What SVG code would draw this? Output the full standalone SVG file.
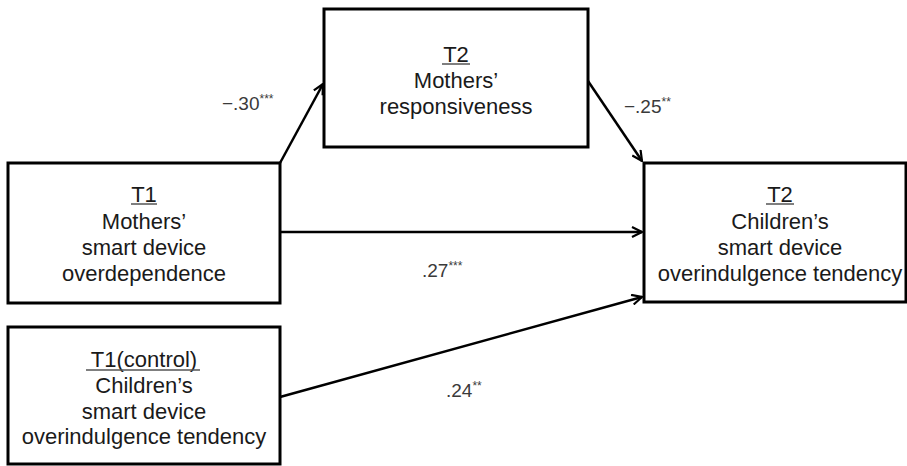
<svg xmlns="http://www.w3.org/2000/svg" width="907" height="466" viewBox="0 0 907 466">
<defs>
<style>
.box{fill:#fff;stroke:#000;stroke-width:3}
.t{font-family:"Liberation Sans",Arial,sans-serif;font-size:22px;fill:#1a1a1a;text-anchor:middle}
.ul{stroke:#555;stroke-width:1.5}
.edge{stroke:#000;stroke-width:2.5;fill:none;marker-end:url(#arr)}
.lab{font-family:"Liberation Sans",Arial,sans-serif;font-size:19px;fill:#3a3a3a}
.sup{font-size:12px}
</style>
<marker id="arr" viewBox="0 0 12 12" refX="11" refY="6" markerWidth="12" markerHeight="12" markerUnits="userSpaceOnUse" orient="auto">
<path d="M1,1 L11,6 L1,11" fill="none" stroke="#000" stroke-width="2.2"/>
</marker>
</defs>
<g id="connectors">
<line class="edge" x1="280" y1="163" x2="323" y2="84"/>
<line class="edge" x1="588" y1="81" x2="642" y2="161"/>
<line class="edge" x1="280" y1="232" x2="642" y2="232"/>
<line class="edge" x1="280" y1="397" x2="642" y2="297"/>
<text class="lab" x="222" y="110">−.30<tspan class="sup" dy="-7">***</tspan></text>
<text class="lab" x="624" y="113">−.25<tspan class="sup" dy="-7">**</tspan></text>
<text class="lab" x="422" y="277">.27<tspan class="sup" dy="-7">***</tspan></text>
<text class="lab" x="446" y="397">.24<tspan class="sup" dy="-7">**</tspan></text>
</g>
<g id="node-m-resp">
<rect class="box" x="324" y="9" width="264" height="138"/>
<text class="t" x="456" y="62">T2</text>
<line class="ul" x1="442" y1="64" x2="470" y2="64"/>
<text class="t" x="456" y="88">Mothers’</text>
<text class="t" x="456" y="114">responsiveness</text>
</g>
<g id="node-t1-mother">
<rect class="box" x="8" y="163" width="272" height="140"/>
<text class="t" x="144" y="202">T1</text>
<line class="ul" x1="131" y1="204" x2="157" y2="204"/>
<text class="t" x="144" y="229">Mothers’</text>
<text class="t" x="144" y="255">smart device</text>
<text class="t" x="144" y="281">overdependence</text>
</g>
<g id="node-t2-child">
<rect class="box" x="644" y="163" width="262" height="139"/>
<text class="t" x="780" y="202">T2</text>
<line class="ul" x1="766" y1="204" x2="794" y2="204"/>
<text class="t" x="780" y="229">Children’s</text>
<text class="t" x="780" y="255">smart device</text>
<text class="t" x="780" y="281">overindulgence tendency</text>
</g>
<g id="node-t1-control">
<rect class="box" x="8" y="327" width="272" height="137"/>
<text class="t" x="144" y="367">T1(control)</text>
<line class="ul" x1="86" y1="370" x2="200" y2="370"/>
<text class="t" x="144" y="393">Children’s</text>
<text class="t" x="144" y="419">smart device</text>
<text class="t" x="144" y="444">overindulgence tendency</text>
</g>
</svg>
